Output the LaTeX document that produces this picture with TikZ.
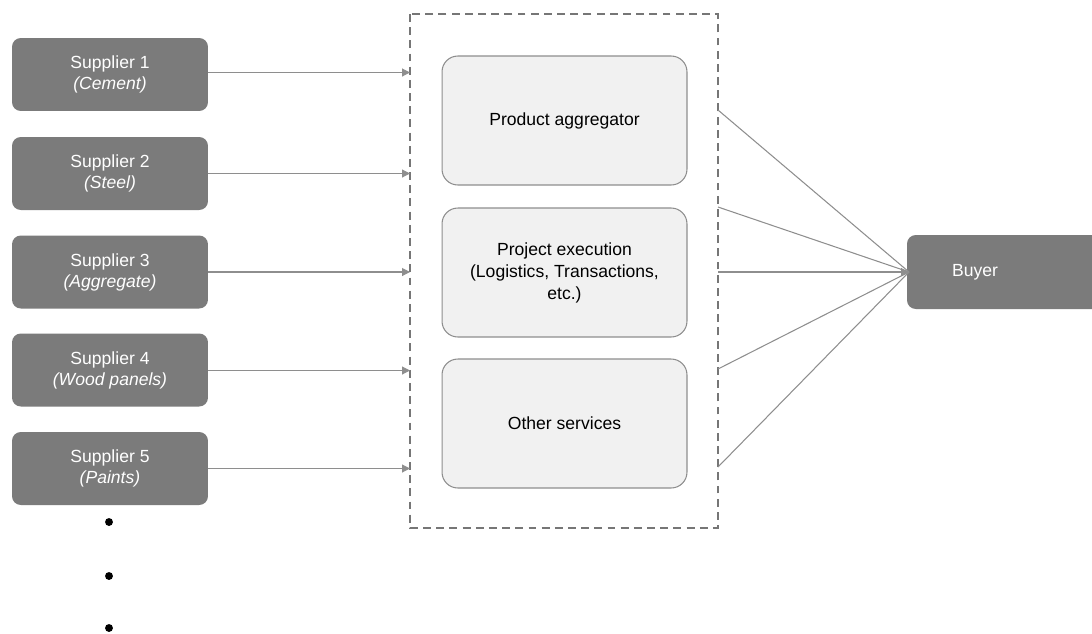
\documentclass[tikz,border=0pt]{standalone}
\usepackage{fontspec}
\setmainfont{Liberation Sans}
\usetikzlibrary{arrows.meta}
\definecolor{dark}{HTML}{7B7B7B}
\definecolor{lightf}{HTML}{F1F1F1}
\definecolor{edgec}{HTML}{8E8E8E}
\definecolor{dashc}{HTML}{767676}
\begin{document}
\begin{tikzpicture}[x=0.02cm,y=-0.02cm,
  supplier/.style={fill=dark,draw=none,rounded corners=5pt,minimum width=3.92cm,minimum height=1.46cm,
    text=white,font=\fontsize{10}{12}\selectfont,align=center,inner sep=0pt},
  inner/.style={fill=lightf,draw=edgec,line width=0.6pt,rounded corners=9pt,minimum width=4.9cm,minimum height=2.58cm,
    text=black,font=\fontsize{10}{12.5}\selectfont,align=center,inner sep=0pt},
  conn/.style={draw=edgec,line width=0.6pt},
  arr/.style={conn,-{Triangle[length=4.5pt,width=4.5pt]}},
  dot/.style={circle,fill=black,inner sep=0pt,minimum size=4.5pt}]
\useasboundingbox (0,0) rectangle (1092,633);
% suppliers
\node[supplier] (s1) at (110,74.5) {Supplier 1\\\textit{(Cement)}};
\node[supplier] (s2) at (110,173.5) {Supplier 2\\\textit{(Steel)}};
\node[supplier] (s3) at (110,272) {Supplier 3\\\textit{(Aggregate)}};
\node[supplier] (s4) at (110,370) {Supplier 4\\\textit{(Wood panels)}};
\node[supplier] (s5) at (110,468.5) {Supplier 5\\\textit{(Paints)}};
% dots
\node[dot] (d1) at (109,522) {};
\node[dot] (d2) at (109,576) {};
\node[dot] (d3) at (109,628) {};
% dashed container
\draw[dashc,line width=1.1pt,dash pattern=on 4.5pt off 3pt] (410,14) rectangle (718,528);
\coordinate (L1) at (410,72.5);
\coordinate (L2) at (410,173.5);
\coordinate (L3) at (410,272);
\coordinate (L4) at (410,370.5);
\coordinate (L5) at (410,468.5);
\coordinate (R1) at (718,110);
\coordinate (R2) at (718,207);
\coordinate (R3) at (718,272);
\coordinate (R4) at (718,369);
\coordinate (R5) at (718,467);
% inner boxes
\node[inner] (pa) at (564.5,120.5) {Product aggregator};
\node[inner] (pe) at (564.5,272.5) {Project execution\\(Logistics, Transactions,\\etc.)};
\node[inner] (os) at (564.5,423.5) {Other services};
% buyer
\fill[dark,rounded corners=5pt] (907,235) rectangle (1110,309);
\node[text=white,font=\fontsize{10}{12}\selectfont] (buyer) at (975,272) {Buyer};
\coordinate (bin) at (909,272);
% supplier arrows
\draw[arr] (s1.east |- L1) -- (L1);
\draw[arr] (s2.east |- L2) -- (L2);
\draw[arr] (s3.east |- L3) -- (L3);
\draw[arr] (s4.east |- L4) -- (L4);
\draw[arr] (s5.east |- L5) -- (L5);
% to buyer
\foreach \r in {R1,R2,R4,R5} \draw[conn] (\r) -- (bin);
\draw[arr] (R3) -- (bin);
\end{tikzpicture}
\end{document}
